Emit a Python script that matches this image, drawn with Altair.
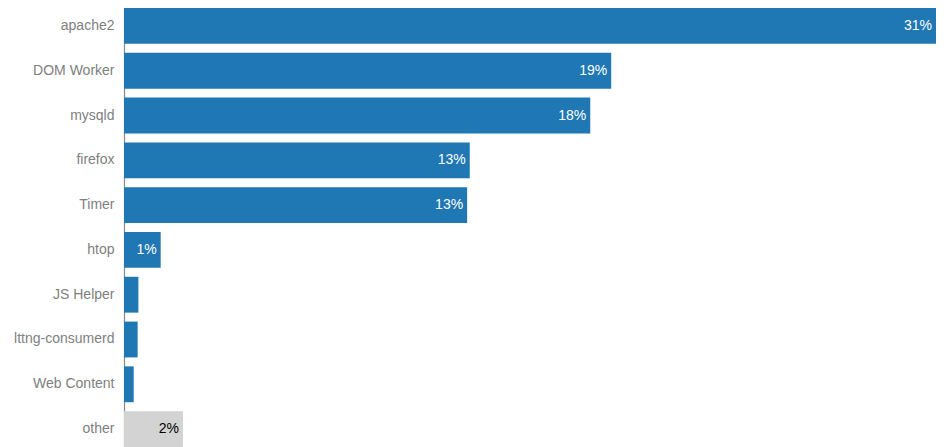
import altair as alt
import pandas as pd

names = ["apache2", "DOM Worker", "mysqld", "firefox", "Timer", "htop",
         "JS Helper", "lttng-consumerd", "Web Content", "other"]
shares = [31.0, 18.6, 17.8, 13.2, 13.1, 1.4, 0.55, 0.52, 0.37, 2.25]
labels = ["31%", "19%", "18%", "13%", "13%", "1%", "", "", "", "2%"]
kinds = ["proc"] * 9 + ["other"]

df = pd.DataFrame({"name": names, "share": shares, "label": labels, "kind": kinds})

y = alt.Y("name:N", sort=names, title=None,
          scale=alt.Scale(paddingInner=0.2, paddingOuter=0),
          axis=alt.Axis(ticks=False, labelPadding=10, labelFontSize=14,
                        labelColor="#808080", labelFont="Liberation Sans",
                        domainColor="#888888", domainWidth=1.2, grid=False))
x = alt.X("share:Q", title=None, axis=None,
          scale=alt.Scale(domain=[0, max(shares)], nice=False, zero=True))

bars = alt.Chart(df).mark_bar().encode(
    y=y, x=x,
    color=alt.condition("datum.kind == 'other'", alt.value("#d3d3d3"), alt.value("#1f77b4")),
)

text = alt.Chart(df).transform_filter("datum.label != ''").mark_text(
    align="right", baseline="middle", dx=-4, fontSize=14, font="Liberation Sans"
).encode(
    y=y, x=x, text="label:N",
    color=alt.condition("datum.kind == 'other'", alt.value("#000000"), alt.value("#ffffff")),
)

chart = alt.layer(bars, text).properties(
    width=812, height=439,
    autosize=alt.AutoSizeParams(type="none"),
    padding={"left": 116, "top": 0, "right": 0, "bottom": 0},
).configure_view(stroke=None)

chart.save("out.html", embed_options={"renderer": "svg", "actions": False})
